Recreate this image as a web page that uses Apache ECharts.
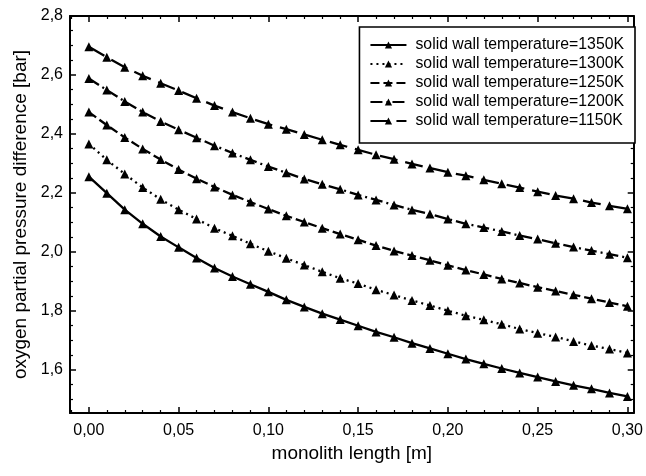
<!DOCTYPE html>
<html><head><meta charset="utf-8">
<script src="https://cdn.jsdelivr.net/npm/echarts@6/dist/echarts.min.js"></script>
<style>html,body{margin:0;padding:0;background:#fff}#c{width:646px;height:476px}</style>
</head><body><div id="c"></div>
<script>
const lengths = [0.00,0.01,0.02,0.03,0.04,0.05,0.06,0.07,0.08,0.09,0.10,0.11,0.12,0.13,0.14,0.15,0.16,0.17,0.18,0.19,0.20,0.21,0.22,0.23,0.24,0.25,0.26,0.27,0.28,0.29,0.30];
const t1350 = [2.255,2.199,2.143,2.095,2.052,2.015,1.979,1.945,1.916,1.890,1.864,1.837,1.813,1.790,1.770,1.749,1.728,1.710,1.690,1.672,1.654,1.636,1.620,1.604,1.589,1.575,1.560,1.547,1.535,1.521,1.509];
const t1300 = [2.366,2.312,2.264,2.218,2.178,2.143,2.111,2.080,2.054,2.027,2.002,1.978,1.955,1.932,1.910,1.892,1.871,1.853,1.835,1.818,1.800,1.783,1.769,1.754,1.738,1.724,1.711,1.696,1.682,1.670,1.657];
const t1250 = [2.474,2.430,2.388,2.349,2.313,2.279,2.248,2.220,2.193,2.169,2.145,2.122,2.101,2.080,2.060,2.041,2.021,2.003,1.987,1.971,1.954,1.938,1.923,1.908,1.894,1.880,1.867,1.854,1.841,1.828,1.815];
const t1200 = [2.588,2.549,2.510,2.474,2.442,2.414,2.387,2.360,2.335,2.312,2.289,2.268,2.247,2.229,2.212,2.193,2.176,2.159,2.142,2.128,2.111,2.095,2.082,2.069,2.055,2.043,2.029,2.016,2.004,1.992,1.980];
const t1150 = [2.696,2.660,2.626,2.597,2.572,2.547,2.521,2.496,2.474,2.453,2.433,2.416,2.398,2.380,2.363,2.346,2.329,2.314,2.298,2.284,2.270,2.258,2.244,2.231,2.218,2.204,2.191,2.180,2.167,2.156,2.146];
const seriesNames = ['solid wall temperature=1350K','solid wall temperature=1300K','solid wall temperature=1250K','solid wall temperature=1200K','solid wall temperature=1150K'];
const seriesValues = [t1350, t1300, t1250, t1200, t1150];
const dashes = ['solid', [2,4], [9,4], [12,4,2,4], [18,8]];

const FONT = 'Liberation Sans, Arial, Helvetica, sans-serif';
const fmtX = v => Math.abs(v*20 - Math.round(v*20)) < 1e-6 ? v.toFixed(2).replace('.', ',') : '';
const fmtY = v => Math.abs(v*5 - Math.round(v*5)) < 1e-6 ? v.toFixed(1).replace('.', ',') : '';

const axisLine = {show:true, onZero:false, lineStyle:{color:'#000', width:2}};
const xCommon = {type:'value', min:-0.0105, max:0.3035, splitNumber:6,
  axisLine, splitLine:{show:false},
  axisTick:{show:true, inside:true, length:6, lineStyle:{color:'#000', width:1.5}},
  minorTick:{show:true, splitNumber:5, length:3, lineStyle:{color:'#000', width:1.2}}};
const yCommon = {type:'value', min:1.453, max:2.8, splitNumber:7,
  axisLine, splitLine:{show:false},
  axisTick:{show:true, inside:true, length:6, lineStyle:{color:'#000', width:1.5}},
  minorTick:{show:true, splitNumber:4, length:3, lineStyle:{color:'#000', width:1.2}}};

const chart = echarts.init(document.getElementById('c'), null, {renderer:'canvas'});
chart.setOption({
  animation:false,
  backgroundColor:'#fff',
  textStyle:{fontFamily:FONT, color:'#000'},
  grid:{left:70, right:10, top:16, bottom:63},
  legend:{
    orient:'vertical', right:11, top:27,
    backgroundColor:'#fff', borderColor:'#000', borderWidth:1.6,
    padding:[10,11,14,10], itemGap:3, itemWidth:36, itemHeight:9,
    textStyle:{fontFamily:FONT, fontSize:15.8, color:'#000', padding:[0,0,0,4]},
    data:seriesNames
  },
  xAxis:[
    Object.assign({}, xCommon, {position:'bottom',
      name:'monolith length [m]', nameLocation:'middle', nameGap:27,
      nameTextStyle:{fontFamily:FONT, fontSize:19, color:'#000'},
      axisLabel:{show:true, formatter:fmtX, margin:10, fontFamily:FONT, fontSize:16, color:'#000'}}),
    Object.assign({}, xCommon, {position:'top', axisLabel:{show:false}})
  ],
  yAxis:[
    Object.assign({}, yCommon, {position:'left',
      name:'oxygen partial pressure difference [bar]', nameLocation:'middle', nameGap:39,
      nameTextStyle:{fontFamily:FONT, fontSize:19, color:'#000'},
      axisLabel:{show:true, formatter:fmtY, margin:7, fontFamily:FONT, fontSize:16, color:'#000'}}),
    Object.assign({}, yCommon, {position:'right', axisLabel:{show:false}})
  ],
  series: seriesNames.map((n, i) => ({
    name:n, type:'line', xAxisIndex:0, yAxisIndex:0,
    data: lengths.map((x, k) => [x, seriesValues[i][k]]),
    symbol:'triangle', symbolSize:9, showSymbol:true,
    itemStyle:{color:'#000'},
    lineStyle:{color:'#000', width:2.3, type:dashes[i]},
    emphasis:{disabled:true}
  }))
});
</script></body></html>
